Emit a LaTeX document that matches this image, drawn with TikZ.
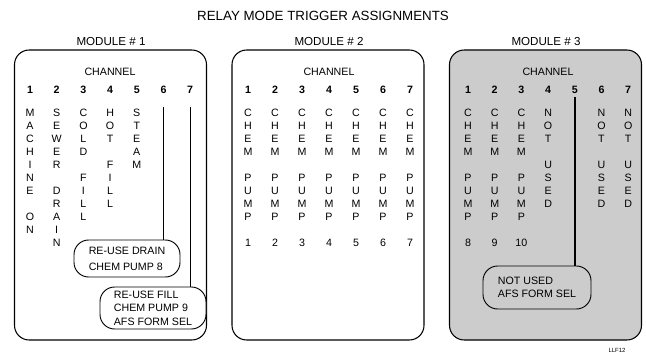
\documentclass[tikz,border=0pt]{standalone}
\usepackage{fontspec}
\setmainfont{Liberation Sans}
\usepackage{tikz}

\tikzset{
  module/.style={draw, line width=0.8pt, rounded corners=11pt,
    minimum width=144pt, minimum height=217.5pt},
  modtitle/.style={inner sep=0pt, font=\fontsize{8.7}{10}\selectfont},
  callout/.style={draw, line width=0.7pt, rounded corners=11pt, align=left,
    fill=white, inner sep=0pt},
  txt/.style={inner sep=0pt, font=\fontsize{8}{10}\selectfont},
  chnum/.style={inner sep=0pt, font=\fontsize{8}{10}\selectfont\bfseries},
  link/.style={line width=0.6pt},
}

\begin{document}
\begin{tikzpicture}[x=0.75pt, y=-0.75pt]
    \useasboundingbox (0,0) rectangle (646,356);
    \node[font=\fontsize{10}{12}\selectfont] (title) at (323,16) {RELAY MODE TRIGGER ASSIGNMENTS};
    % module frames
    \node[module] (box1) at (110.5,195) {};
    \node[module] (box2) at (328,195) {};
    \node[module, fill=gray!40] (box3) at (545.5,195) {};
    \node[modtitle] (mt1) at (111,42) {MODULE \# 1};
    \node[modtitle] (mt2) at (329,42) {MODULE \# 2};
    \node[modtitle] (mt3) at (546,42) {MODULE \# 3};
    \node[txt] (chan1) at (110,72) {CHANNEL};
    \node[txt] (chan2) at (329,72) {CHANNEL};
    \node[txt] (chan3) at (548,72) {CHANNEL};
    \foreach \i in {1,...,7}{
      \node[chnum] (m1n\i) at ({30+26.7*(\i-1)},90) {\i};
      \node[chnum] (m2n\i) at ({248+27*(\i-1)},90) {\i};
      \node[chnum] (m3n\i) at ({468+26.7*(\i-1)},90) {\i};
    }
    % module 1
    \foreach \ltr [count=\j] in {M,A,C,H,I,N,E,{},O,N}
      \node[txt] (m1c1-\j) at (30,{100+13*\j}) {\ltr};
    \foreach \ltr [count=\j] in {S,E,W,E,R,{},D,R,A,I,N}
      \node[txt] (m1c2-\j) at (56.7,{100+13*\j}) {\ltr};
    \foreach \ltr [count=\j] in {C,O,L,D,{},F,I,L,L}
      \node[txt] (m1c3-\j) at (83.4,{100+13*\j}) {\ltr};
    \foreach \ltr [count=\j] in {H,O,T,{},F,I,L,L}
      \node[txt] (m1c4-\j) at (110.1,{100+13*\j}) {\ltr};
    \foreach \ltr [count=\j] in {S,T,E,A,M}
      \node[txt] (m1c5-\j) at (136.8,{100+13*\j}) {\ltr};
    % module 2
    \foreach \i in {1,...,7}{
      \foreach \ltr [count=\j] in {C,H,E,M,{},P,U,M,P,{},\i}
        \node[txt] (m2c\i-\j) at ({248+27*(\i-1)},{100+13*\j}) {\ltr};
    }
    % module 3
    \foreach \i/\n in {1/8,2/9,3/10}{
      \foreach \ltr [count=\j] in {C,H,E,M,{},P,U,M,P,{},\n}
        \node[txt] (m3c\i-\j) at ({468+26.7*(\i-1)},{100+13*\j}) {\ltr};
    }
    \foreach \i in {4,6,7}{
      \foreach \ltr [count=\j] in {N,O,T,{},U,S,E,D}
        \node[txt] (m3c\i-\j) at ({468+26.7*(\i-1)},{100+13*\j}) {\ltr};
    }
    % re-use notes
    \node[callout, minimum width=79.5pt, minimum height=27.75pt,
      font=\fontsize{8}{12}\selectfont] (reuse1) at (127,258.5) {RE-USE DRAIN\\CHEM PUMP 8};
    \node[callout, minimum width=79.5pt, minimum height=31.5pt,
      font=\fontsize{8}{10}\selectfont] (reuse2) at (153,308) {RE-USE FILL\\CHEM PUMP 9\\AFS FORM SEL};
    \node[callout, fill=gray!40, minimum width=81pt, minimum height=32.25pt,
      font=\fontsize{8}{9.75}\selectfont] (notused) at (537,287.5) {NOT USED\\AFS FORM SEL};
    \draw[link, shorten <=10pt] (m1n6) -- (m1n6 |- reuse1.north);
    \draw[link, shorten <=10pt] (m1n7) -- (m1n7 |- reuse2.north);
    \draw[link, line width=1.3pt, shorten <=2pt] (m3n5) -- (m3n5 |- notused.north);
    \node[font=\fontsize{4.5}{5}\selectfont] (tag) at (617,350) {LLF12};
  \end{tikzpicture}
\end{document}
